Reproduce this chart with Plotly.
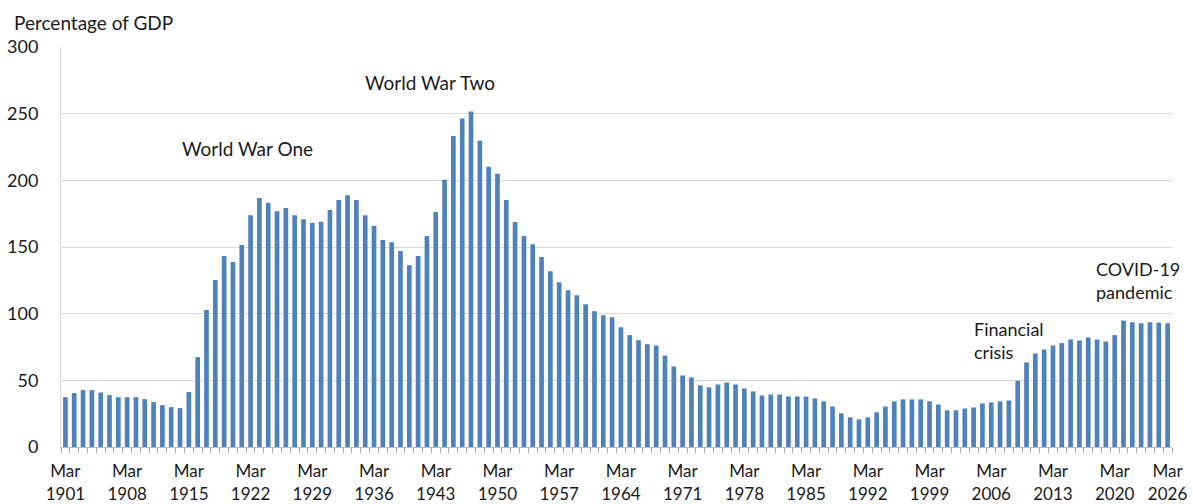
import plotly.graph_objects as go

# Debt as a percentage of GDP, financial years ending March 1901 .. 2026
years = list(range(1901, 2027))
debt_pct = [
    37.4, 40.4, 42.7, 42.7, 40.9, 38.9, 37.4, 37.4, 37.4, 35.9,
    33.7, 31.4, 29.9, 29.2, 41.2, 67.4, 102.8, 125.3, 143.2, 138.8,
    151.5, 173.9, 186.7, 183.2, 176.9, 179.2, 173.9, 170.9, 168.0, 169.0,
    177.7, 185.2, 188.9, 185.2, 173.9, 165.7, 155.2, 153.5, 147.0, 136.3,
    143.2, 158.2, 176.2, 200.4, 233.3, 246.3, 251.6, 229.6, 210.1, 204.9,
    185.2, 168.7, 158.2, 152.0, 142.5, 131.8, 123.5, 117.5, 113.8, 107.1,
    101.8, 98.8, 97.3, 89.8, 83.9, 80.1, 77.1, 76.1, 68.6, 60.4,
    53.7, 52.2, 46.2, 44.7, 46.9, 48.4, 46.9, 43.9, 41.7, 38.7,
    39.4, 39.4, 37.9, 37.9, 37.9, 36.4, 34.2, 30.4, 25.2, 22.2,
    20.7, 22.2, 26.0, 30.4, 34.2, 35.7, 35.7, 35.7, 34.2, 31.9,
    27.5, 27.5, 28.9, 29.7, 32.7, 33.4, 34.2, 34.9, 49.7, 63.4,
    70.1, 73.1, 76.1, 77.9, 80.6, 79.9, 82.1, 80.6, 79.1, 83.9,
    94.8, 93.6, 92.8, 93.6, 93.3, 92.8,
]
label_years = [1901, 1908, 1915, 1922, 1929, 1936, 1943, 1950, 1957, 1964,
               1971, 1978, 1985, 1992, 1999, 2006, 2013, 2020, 2026]
tick_text = ["Mar<br>%d" % y for y in label_years]

FONT = "Lato"
TEXT = "#1a1a1a"

fig = go.Figure()
fig.add_trace(go.Bar(
    x=years,
    y=debt_pct,
    marker=dict(color="#4f81bd", line=dict(width=0)),
    hoverinfo="x+y",
))

fig.update_layout(
    width=1193,
    height=504,
    margin=dict(l=61, r=21, t=47, b=57),
    plot_bgcolor="white",
    paper_bgcolor="white",
    bargap=0.47,
    showlegend=False,
    font=dict(family=FONT, size=17, color=TEXT),
)

fig.update_xaxes(
    automargin=False,
    range=[1900.5, 2026.5],
    tickmode="array",
    tickvals=label_years,
    ticktext=tick_text,
    ticks="",
    ticklabelstandoff=9,
    showgrid=False,
    showline=True,
    linecolor="#bfbfbf",
    linewidth=1,
    tickfont=dict(family=FONT, size=17, color=TEXT),
    minor=dict(
        tickmode="array",
        tickvals=[y + 0.5 for y in range(1900, 2027)],
        ticks="outside",
        ticklen=5,
        tickcolor="#a6a6a6",
        showgrid=False,
    ),
)
fig.update_yaxes(
    automargin=False,
    range=[0, 300],
    tickvals=[0, 50, 100, 150, 200, 250, 300],
    showgrid=True,
    gridcolor="#d9d9d9",
    gridwidth=1,
    zeroline=False,
    showline=True,
    linecolor="#d9d9d9",
    ticks="",
    ticklabelstandoff=18,
    tickfont=dict(family=FONT, size=18, color=TEXT),
)

fig.add_annotation(
    text="Percentage of GDP", xref="paper", yref="paper",
    x=-0.044, y=1.062, xanchor="left", yanchor="middle",
    showarrow=False, font=dict(family=FONT, size=19, color=TEXT),
)

notes = [
    ("World War One", 1914.0, 224.0, 19),
    ("World War Two", 1934.8, 273.6, 19),
    ("Financial<br>crisis", 2003.8, 79.6, 18),
    ("COVID-19<br>pandemic", 2017.6, 124.6, 18),
]
for text, x, y, size in notes:
    fig.add_annotation(
        text=text, x=x, y=y, xanchor="left", yanchor="middle", align="left",
        showarrow=False, font=dict(family=FONT, size=size, color=TEXT),
    )

# drop the default page margin so the figure sits at the window's corner
fig.write_html(
    "out.html",
    config={"displayModeBar": False},
    post_script="document.body.style.margin='0';",
)
